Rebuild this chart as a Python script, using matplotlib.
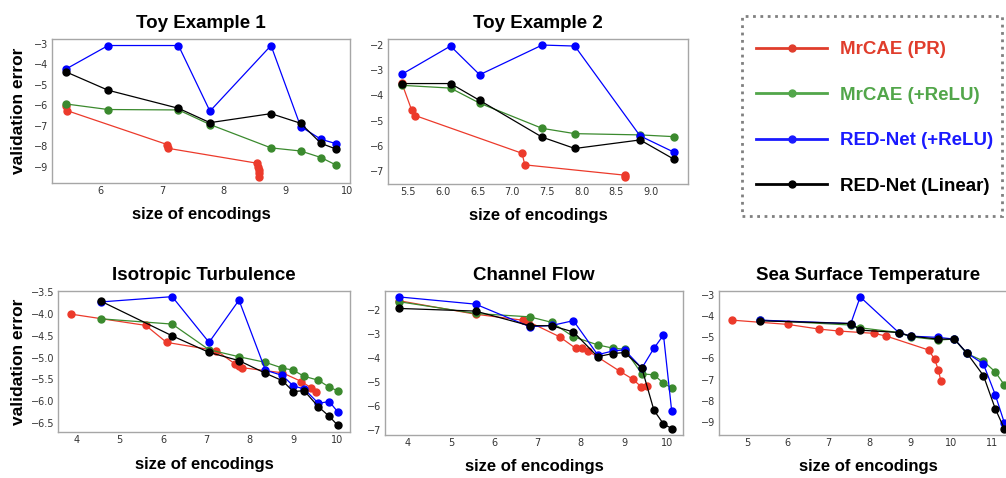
import matplotlib.pyplot as plt
from matplotlib.patches import Rectangle

# Series names and colours (in drawing order).
labels = ['MrCAE (PR)', 'MrCAE (+ReLU)', 'RED-Net (+ReLU)', 'RED-Net (Linear)']
line_colors = ['#ec3a2b', '#3b8a2e', '#0000ff', '#000000']
legend_colors = ['#e03d2c', '#52a64a', '#1a1aff', '#000000']

# Toy Example 1
toy1_x = [5.45, 6.13, 7.27, 7.78, 8.77, 9.25, 9.58, 9.82]
toy1_mrcae_relu = [-5.93, -6.20, -6.22, -6.93, -8.07, -8.22, -8.54, -8.90]
toy1_rednet_relu = [-4.22, -3.08, -3.08, -6.28, -3.08, -7.03, -7.65, -7.86]
toy1_rednet_lin = [-4.37, -5.26, -6.14, -6.84, -6.40, -6.87, -7.85, -8.12]
toy1_pr_x = [5.44, 5.46, 7.09, 7.10, 8.55, 8.56, 8.57, 8.57, 8.58]
toy1_pr_y = [-6.02, -6.25, -7.91, -8.09, -8.82, -8.98, -9.15, -9.28, -9.49]

# Toy Example 2
toy2_x = [5.41, 6.11, 6.53, 7.43, 7.90, 8.84, 9.33]
toy2_mrcae_relu = [-3.60, -3.71, -4.31, -5.31, -5.52, -5.57, -5.64]
toy2_rednet_relu = [-3.16, -2.04, -3.18, -2.00, -2.04, -5.61, -6.26]
toy2_rednet_lin = [-3.53, -3.53, -4.20, -5.66, -6.11, -5.77, -6.54]
toy2_pr_x = [5.41, 5.55, 5.60, 7.14, 7.18, 8.62, 8.62]
toy2_pr_y = [-3.52, -4.58, -4.80, -6.30, -6.76, -7.17, -7.25]

# Isotropic Turbulence
iso_x = [4.58, 6.21, 7.06, 7.75, 8.36, 8.75, 9.00, 9.25, 9.58, 9.83, 10.02]
iso_mrcae_relu = [-4.11, -4.23, -4.82, -4.98, -5.11, -5.24, -5.29, -5.43, -5.52, -5.68, -5.76]
iso_rednet_relu = [-3.72, -3.60, -4.65, -3.68, -5.29, -5.41, -5.65, -5.72, -6.05, -6.01, -6.24]
iso_rednet_lin = [-3.71, -4.50, -4.88, -5.07, -5.36, -5.53, -5.78, -5.76, -6.13, -6.35, -6.55]
iso_pr_x = [3.87, 5.60, 6.08, 7.23, 7.65, 7.75, 7.81, 8.75, 9.19, 9.42, 9.52]
iso_pr_y = [-4.00, -4.26, -4.65, -4.84, -5.14, -5.19, -5.23, -5.35, -5.55, -5.70, -5.80]

# Channel Flow
ch_x = [3.81, 5.57, 6.82, 7.33, 7.83, 8.39, 8.75, 9.01, 9.41, 9.69, 9.91, 10.10]
ch_mrcae_relu = [-1.65, -2.14, -2.28, -2.51, -3.11, -3.45, -3.59, -3.63, -4.66, -4.70, -5.05, -5.25]
ch_rednet_relu = [-1.45, -1.75, -2.69, -2.64, -2.44, -3.86, -3.70, -3.66, -4.42, -3.59, -3.04, -6.22]
ch_rednet_lin = [-1.93, -2.04, -2.65, -2.65, -2.91, -3.94, -3.81, -3.77, -4.42, -6.18, -6.75, -6.94]
ch_pr_x = [3.81, 5.57, 6.66, 6.79, 7.51, 7.88, 8.04, 8.16, 8.91, 9.20, 9.39, 9.52]
ch_pr_y = [-1.61, -2.17, -2.42, -2.48, -3.11, -3.59, -3.59, -3.69, -4.56, -4.88, -5.19, -5.16]

# Sea Surface Temperature
sst_x = [5.33, 7.54, 7.77, 8.71, 9.00, 9.68, 10.07, 10.37, 10.78, 11.07, 11.29]
sst_mrcae_relu = [-4.20, -4.43, -4.56, -4.78, -4.98, -5.13, -5.09, -5.76, -6.12, -6.63, -7.24]
sst_rednet_relu = [-4.20, -4.36, -3.11, -4.78, -4.95, -5.01, -5.09, -5.73, -6.26, -7.70, -9.01]
sst_rednet_lin = [-4.23, -4.36, -4.67, -4.78, -4.95, -5.09, -5.09, -5.73, -6.80, -8.36, -9.29]
sst_pr_x = [4.64, 6.00, 6.77, 7.24, 8.11, 8.41, 9.44, 9.59, 9.68, 9.74]
sst_pr_y = [-4.20, -4.40, -4.62, -4.71, -4.82, -4.95, -5.60, -6.04, -6.54, -7.05]

panels = [
    ('Toy Example 1', [0.0517, 0.6172, 0.2962, 0.3013], (5.22, 10.05), (-9.78, -2.76),
     [6, 7, 8, 9, 10], [-9, -8, -7, -6, -5, -4, -3],
     [(toy1_pr_x, toy1_pr_y), (toy1_x, toy1_mrcae_relu),
      (toy1_x, toy1_rednet_relu), (toy1_x, toy1_rednet_lin)]),
    ('Toy Example 2', [0.3857, 0.6151, 0.2982, 0.3033], (5.21, 9.53), (-7.52, -1.76),
     [5.5, 6.0, 6.5, 7.0, 7.5, 8.0, 8.5, 9.0], [-7, -6, -5, -4, -3, -2],
     [(toy2_pr_x, toy2_pr_y), (toy2_x, toy2_mrcae_relu),
      (toy2_x, toy2_rednet_relu), (toy2_x, toy2_rednet_lin)]),
    ('Isotropic Turbulence', [0.0577, 0.0962, 0.2903, 0.2950], (3.58, 10.31), (-6.71, -3.47),
     [4, 5, 6, 7, 8, 9, 10], [-6.5, -6.0, -5.5, -5.0, -4.5, -4.0, -3.5],
     [(iso_pr_x, iso_pr_y), (iso_x, iso_mrcae_relu),
      (iso_x, iso_rednet_relu), (iso_x, iso_rednet_lin)]),
    ('Channel Flow', [0.3827, 0.0900, 0.2962, 0.3013], (3.48, 10.36), (-7.21, -1.20),
     [4, 5, 6, 7, 8, 9, 10], [-7, -6, -5, -4, -3, -2],
     [(ch_pr_x, ch_pr_y), (ch_x, ch_mrcae_relu),
      (ch_x, ch_rednet_relu), (ch_x, ch_rednet_lin)]),
    ('Sea Surface Temperature', [0.7147, 0.0900, 0.2962, 0.3013], (4.32, 11.60), (-9.59, -2.83),
     [5, 6, 7, 8, 9, 10, 11], [-9, -8, -7, -6, -5, -4, -3],
     [(sst_pr_x, sst_pr_y), (sst_x, sst_mrcae_relu),
      (sst_x, sst_rednet_relu), (sst_x, sst_rednet_lin)]),
]

bold_font = ['Liberation Sans', 'DejaVu Sans']

fig = plt.figure(figsize=(10.06, 4.78), dpi=100)
fig.patch.set_facecolor('white')

for i, (title, rect, xlim, ylim, xticks, yticks, series) in enumerate(panels):
    ax = fig.add_axes(rect)
    for (xs, ys), color, label in zip(series, line_colors, labels):
        ax.plot(xs, ys, '-o', color=color, lw=0.9, ms=5, label=label)

    ax.set_xlim(*xlim)
    ax.set_ylim(*ylim)
    ax.set_xticks(xticks)
    ax.set_yticks(yticks)
    ax.tick_params(length=0, labelsize=7, colors='#333333', pad=2.5)
    for sp in ax.spines.values():
        sp.set_color('#a6a6a6')
        sp.set_linewidth(1.0)

    ax.set_title(title, family=bold_font, fontweight='bold', fontsize=13.5, pad=8)
    ax.set_xlabel('size of encodings', family=bold_font, fontweight='bold',
                  fontsize=12, va='center')
    ax.xaxis.set_label_coords(0.5, -32 / (rect[3] * 478))
    if i in (0, 2):
        ax.set_ylabel('validation error', family=bold_font, fontweight='bold',
                      fontsize=12.5, va='center')
        ax.yaxis.set_label_coords((18.5 - rect[0] * 1006) / (rect[2] * 1006), 0.5)

# Legend in a dotted box at top right.
fig.patches.append(Rectangle((742 / 1006, 1 - 216 / 478), 260 / 1006, 200 / 478,
                             transform=fig.transFigure, fill=False,
                             edgecolor='#808080', linestyle=':', linewidth=2))
leg_handles = [plt.Line2D([], [], color=c, lw=2, marker='o', ms=5) for c in legend_colors]
leg = fig.legend(leg_handles, labels, loc='center left',
                 bbox_to_anchor=(756 / 1006, 1 - 118 / 478), frameon=False,
                 prop={'family': bold_font, 'weight': 'bold', 'size': 13.5},
                 handlelength=3.8, handletextpad=0.7, labelspacing=1.52,
                 borderpad=0, borderaxespad=0)
for txt, c in zip(leg.get_texts(), legend_colors):
    txt.set_color(c)

fig.savefig('out.png', dpi=100)
